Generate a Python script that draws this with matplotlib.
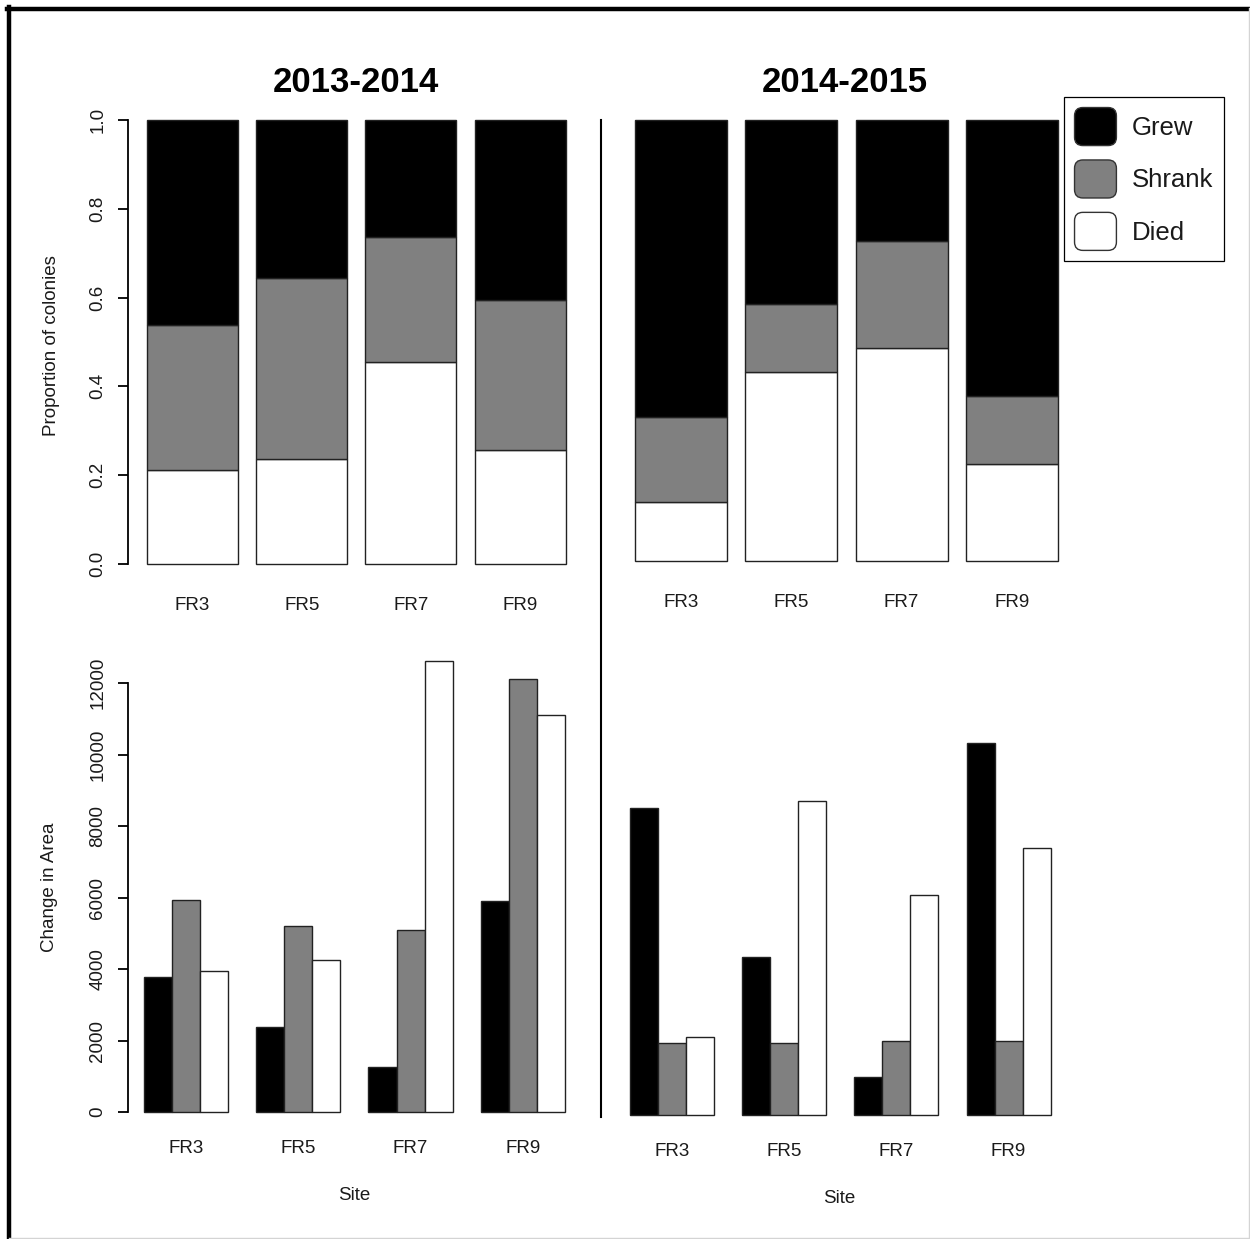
import numpy as np
import matplotlib
matplotlib.use("Agg")
import matplotlib.pyplot as plt
from matplotlib.lines import Line2D
from matplotlib.patches import Patch, FancyBboxPatch
from matplotlib.legend_handler import HandlerPatch

plt.rcParams['font.family'] = ['Liberation Sans', 'DejaVu Sans']

# ---- data -----------------------------------------------------------------
sites = ['FR3', 'FR5', 'FR7', 'FR9']
periods = ['2013-2014', '2014-2015']
outcomes = ['Grew', 'Shrank', 'Died']
outcome_colors = ['#000000', '#808080', '#ffffff']

# proportion of colonies in each outcome class
prop_grew_1314 = [0.462, 0.356, 0.264, 0.405]
prop_shrank_1314 = [0.326, 0.408, 0.281, 0.338]
prop_died_1314 = [0.212, 0.236, 0.455, 0.257]

prop_grew_1415 = [0.673, 0.417, 0.274, 0.626]
prop_shrank_1415 = [0.193, 0.154, 0.243, 0.154]
prop_died_1415 = [0.134, 0.429, 0.483, 0.220]

# change in colony area per outcome class
area_grew_1314 = [3780, 2380, 1260, 5900]
area_shrank_1314 = [5930, 5200, 5090, 12110]
area_died_1314 = [3940, 4250, 12620, 11100]

area_grew_1415 = [8590, 4420, 1060, 10410]
area_shrank_1415 = [2010, 2010, 2070, 2070]
area_died_1415 = [2180, 8780, 6150, 7470]

prop_ticks = [0.0, 0.2, 0.4, 0.6, 0.8, 1.0]
area_ticks = [0, 2000, 4000, 6000, 8000, 10000, 12000]

# ---- figure ---------------------------------------------------------------
W, H = 1250, 1239
fig = plt.figure(figsize=(W / 100, H / 100), dpi=100)
fig.patch.set_facecolor('white')

TXT = '#1a1a1a'
EDGE = '#222222'
FS = 13.5


def px_axes(x0, x1, ytop, ybot):
    return fig.add_axes([x0 / W, 1 - ybot / H, (x1 - x0) / W, (ybot - ytop) / H])


def clean(ax, show_y):
    for s in ['top', 'right', 'bottom']:
        ax.spines[s].set_visible(False)
    ax.set_facecolor('none')
    if not show_y:
        ax.spines['left'].set_visible(False)
        ax.set_yticks([])


def stacked(ax, grew, shrank, died, x0, x1, c0, pitch, pad):
    x = np.arange(len(sites))
    w = 1 / 1.2
    died = np.array(died)
    shrank = np.array(shrank)
    grew = np.array(grew)
    kw = dict(width=w, edgecolor=EDGE, linewidth=1.0, clip_on=False)
    ax.bar(x, died, color=outcome_colors[2], **kw)
    ax.bar(x, shrank, bottom=died, color=outcome_colors[1], **kw)
    ax.bar(x, grew, bottom=died + shrank, color=outcome_colors[0], **kw)
    ax.set_xlim((x0 - c0) / pitch, (x1 - c0) / pitch)
    ax.set_ylim(0, 1)
    ax.set_xticks(x)
    ax.set_xticklabels(sites, fontsize=FS, color=TXT)
    ax.tick_params(axis='x', length=0, pad=pad)


def grouped(ax, grew, shrank, died, x0, x1, c0, unit, pad, ymax):
    g = np.arange(len(sites)) * 4.0
    kw = dict(width=1.0, edgecolor=EDGE, linewidth=1.0, clip_on=False)
    for off, vals, col in zip([-1, 0, 1], [grew, shrank, died], outcome_colors):
        ax.bar(g + off, vals, color=col, **kw)
    ax.set_xlim((x0 - c0) / unit, (x1 - c0) / unit)
    ax.set_ylim(0, ymax)
    ax.set_xticks(g)
    ax.set_xticklabels(sites, fontsize=FS, color=TXT)
    ax.tick_params(axis='x', length=0, pad=pad)
    ax.set_xlabel('Site', fontsize=FS, color=TXT)
    ax.xaxis.set_label_coords(0.5, -0.162)


def style_y(ax, ticks, bounds):
    ax.set_yticks(ticks)
    ax.spines['left'].set_bounds(*bounds)
    ax.spines['left'].set_linewidth(1.3)
    ax.tick_params(axis='y', length=7.2, width=1.3, pad=8.3,
                   labelsize=FS, labelcolor=TXT, labelrotation=90)
    plt.setp(ax.get_yticklabels(), va='center')


# top-left: proportions 2013-2014
ax1 = px_axes(128, 585, 120, 564)
clean(ax1, True)
stacked(ax1, prop_grew_1314, prop_shrank_1314, prop_died_1314,
        128, 585, 192.5, 109.2, 23.8)
style_y(ax1, prop_ticks, (0, 1))
ax1.set_yticklabels([f'{t:.1f}' for t in prop_ticks])
plt.setp(ax1.get_yticklabels(), va='center')
ax1.set_ylabel('Proportion of colonies', fontsize=FS, color=TXT)
ax1.yaxis.set_label_coords(-0.149, 0.493)

# top-right: proportions 2014-2015
ax2 = px_axes(605, 1088, 120, 561)
clean(ax2, False)
stacked(ax2, prop_grew_1415, prop_shrank_1415, prop_died_1415,
        605, 1088, 681, 110.3, 23.8)

# bottom-left: change in area 2013-2014
ymax = 13000
ax3 = px_axes(128, 580, 1112 - ymax * 0.03575, 1112)
clean(ax3, True)
grouped(ax3, area_grew_1314, area_shrank_1314, area_died_1314,
        128, 580, 186, 28.07, 20, ymax)
style_y(ax3, area_ticks, (0, 12000))
ax3.set_ylabel('Change in Area', fontsize=FS, color=TXT)
ax3.yaxis.set_label_coords(-0.155, 0.484)

# bottom-right: change in area 2014-2015
ax4 = px_axes(605, 1074, 1115 - ymax * 0.03575, 1115)
clean(ax4, False)
grouped(ax4, area_grew_1415, area_shrank_1415, area_died_1415,
        605, 1074, 672, 28.05, 20, ymax)

# period titles
fig.text(356 / W, 1 - 82 / H, periods[0], ha='center', va='center',
         fontsize=25, fontweight='bold', color='black')
fig.text(845 / W, 1 - 82 / H, periods[1], ha='center', va='center',
         fontsize=25, fontweight='bold', color='black')

# divider between the two periods
fig.add_artist(Line2D([601 / W, 601 / W], [1 - 120 / H, 1 - 1117 / H],
                      transform=fig.transFigure, color='black', lw=1.5))

# outer frame
fig.add_artist(Line2D([9 / W, 9 / W], [0, 1 - 6.5 / H],
                      transform=fig.transFigure, color='black', lw=3.2))
fig.add_artist(Line2D([7 / W, 1], [1 - 8.5 / H, 1 - 8.5 / H],
                      transform=fig.transFigure, color='black', lw=3.2))
fig.add_artist(Line2D([1248.5 / W, 1248.5 / W], [1.5 / H, 1 - 8 / H],
                      transform=fig.transFigure, color='#d4d4d4', lw=1))
fig.add_artist(Line2D([9 / W, 1248.5 / W], [1.5 / H, 1.5 / H],
                      transform=fig.transFigure, color='#d4d4d4', lw=1))


# legend with rounded keys
class RoundKey(HandlerPatch):
    def create_artists(self, legend, orig_handle, xdescent, ydescent,
                       width, height, fontsize, trans):
        p = FancyBboxPatch((-xdescent, -ydescent), width, height,
                           boxstyle='round,pad=0,rounding_size=6',
                           facecolor=orig_handle.get_facecolor(),
                           edgecolor='#333333', linewidth=1.0, transform=trans)
        return [p]


handles = [Patch(facecolor=c) for c in outcome_colors]
leg = fig.legend(handles, outcomes, loc='upper left',
                 bbox_to_anchor=(1064 / W, 1 - 97 / H),
                 bbox_transform=fig.transFigure, borderaxespad=0,
                 fontsize=18.5, handlelength=1.63, handleheight=1.9,
                 handletextpad=0.6, labelspacing=0.56, borderpad=0.41,
                 frameon=True, fancybox=False, framealpha=1,
                 edgecolor='black', handler_map={Patch: RoundKey()})
leg.get_frame().set_linewidth(0.9)
for t in leg.get_texts():
    t.set_color(TXT)

fig.savefig('out.png', dpi=100, facecolor='white')
